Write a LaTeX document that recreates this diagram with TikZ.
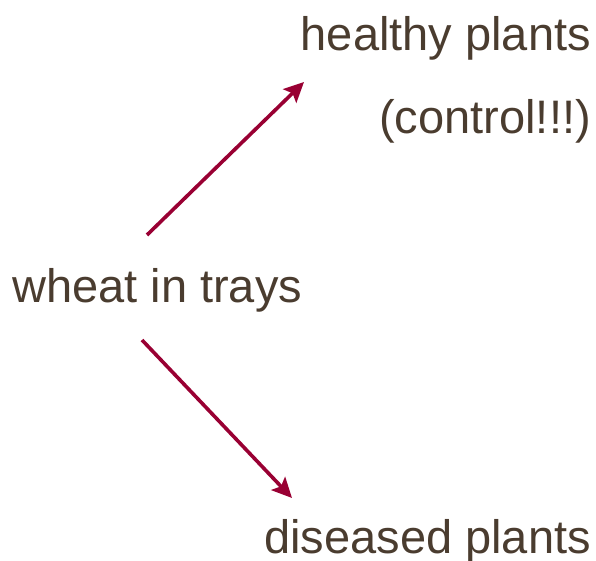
\documentclass[tikz,border=0pt]{standalone}
\usepackage{fontspec}
\setmainfont{Liberation Sans}
\usetikzlibrary{arrows.meta}
\definecolor{txt}{HTML}{4A3C2F}
\definecolor{arr}{HTML}{990033}
\tikzset{
  lbl/.style={inner sep=0pt, text=txt, font=\fontsize{47}{47}\selectfont},
  conn/.style={draw=arr, line width=3.6pt, -{Stealth[length=20pt,width=19pt,inset=4pt]}}
}
\begin{document}
\begin{tikzpicture}[x=1pt,y=-1pt]
\useasboundingbox (0,0) rectangle (596,561);
\node[lbl, anchor=base west] (w) at (12,302) {wheat in trays};
\node[lbl, anchor=base east] (h) at (591,51) {healthy plants};
\node[lbl, anchor=base east] (c) at (591,134) {(control!!!)};
\node[lbl, anchor=base east] (d) at (591,553) {diseased plants};
\coordinate (ws) at (147,235);
\coordinate (we) at (142,340);
\coordinate (ht) at (304,82);
\coordinate (dt) at (292,498);
\draw[conn] (ws) -- (ht);
\draw[conn] (we) -- (dt);
\end{tikzpicture}
\end{document}
